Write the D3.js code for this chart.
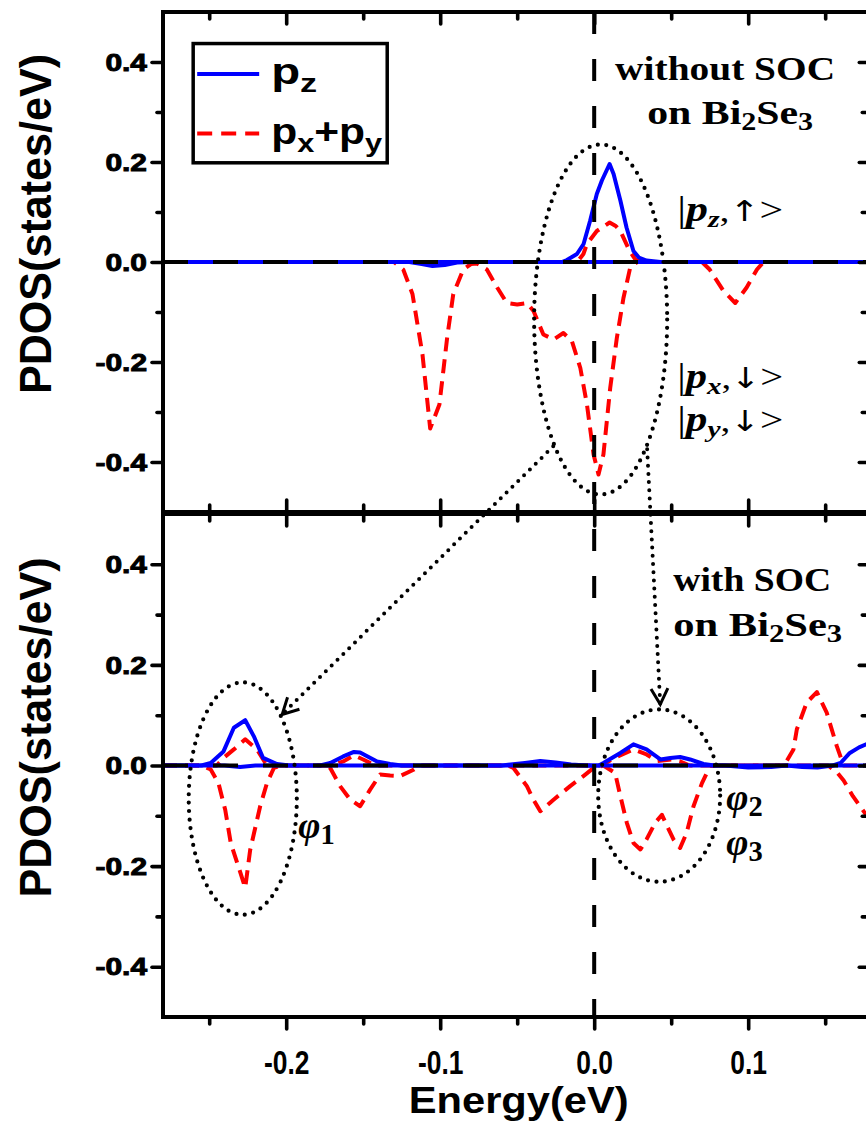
<!DOCTYPE html>
<html>
<head>
<meta charset="utf-8">
<script src="https://cdn.jsdelivr.net/npm/d3@7"></script>
<style>
  html, body { margin: 0; padding: 0; background: #fff; }
  svg { display: block; }
</style>
</head>
<body>
<svg id="chart" width="866" height="1133"></svg>
<script>
// ---------- axes ----------
const energyDomain = [-0.28, 0.178];
const pdosDomain = [-0.5, 0.5];
const xMajorTicks = [-0.2, -0.1, 0.0, 0.1];
const xMinorTicks = [-0.25, -0.15, -0.05, 0.05, 0.15];
const yMajorTicks = [-0.4, -0.2, 0.0, 0.2, 0.4];
const yMinorTicks = [-0.3, -0.1, 0.1, 0.3];
const xTitle = "Energy(eV)";
const yTitle = "PDOS(states/eV)";

// ---------- PDOS curves: [energy (eV), PDOS (states/eV)] ----------
// without SOC
const topPzUp = [[-0.28,0],[-0.021,0],[-0.0177,0.004],[-0.0112,0.016],[-0.0069,0.036],[-0.0026,0.083],
  [0.0017,0.136],[0.005,0.163],[0.010,0.196],[0.0126,0.176],[0.017,0.123],[0.021,0.069],[0.0255,0.022],
  [0.029,0.009],[0.034,0.003],[0.043,0],[0.178,0]];
const topPzDown = [[-0.28,0],[-0.12,0],[-0.112,-0.004],[-0.105,-0.008],[-0.097,-0.006],[-0.089,-0.001],
  [-0.08,0],[0.178,0]];
const topPxyUp = [[-0.28,0],[-0.011,0],[-0.007,0.016],[-0.0047,0.036],[0.0017,0.062],[0.010,0.079],
  [0.014,0.072],[0.017,0.062],[0.023,0.022],[0.027,0.004],[0.032,0],[0.178,0]];
const topPxyDown = [[-0.28,0],[-0.13,0],[-0.124,-0.015],[-0.118,-0.064],[-0.1115,-0.185],[-0.1065,-0.333],
  [-0.1005,-0.285],[-0.0955,-0.152],[-0.0915,-0.064],[-0.085,-0.015],[-0.080,-0.004],[-0.076,-0.003],
  [-0.0697,-0.015],[-0.063,-0.051],[-0.0567,-0.082],[-0.050,-0.085],[-0.0437,-0.082],[-0.0394,-0.098],
  [-0.033,-0.145],[-0.0264,-0.155],[-0.020,-0.142],[-0.0145,-0.158],[-0.009,-0.212],[-0.0047,-0.285],
  [-0.0004,-0.385],[0.0028,-0.425],[0.006,-0.385],[0.0104,-0.252],[0.0147,-0.152],[0.019,-0.072],
  [0.0234,-0.011],[0.028,0],[0.07,0],[0.075,-0.015],[0.084,-0.058],[0.0916,-0.082],[0.099,-0.051],
  [0.1057,-0.015],[0.11,0],[0.178,0]];

// with SOC
const botPzUp = [[-0.28,0],[-0.255,0],[-0.249,0.005],[-0.2407,0.028],[-0.234,0.075],[-0.2266,0.09],
  [-0.221,0.058],[-0.215,0.015],[-0.206,0.003],[-0.198,0],[-0.178,0],[-0.1714,0.005],[-0.163,0.018],
  [-0.156,0.027],[-0.152,0.026],[-0.141,0.008],[-0.1325,0.003],[-0.125,0],[-0.06,0],[-0.045,0.005],
  [-0.035,0.009],[-0.025,0.006],[-0.015,0.002],[-0.005,0],[0.003,0],[0.006,0.005],[0.017,0.025],
  [0.0255,0.042],[0.034,0.032],[0.043,0.012],[0.0494,0.015],[0.0558,0.017],[0.0623,0.012],[0.071,0.003],
  [0.078,0],[0.155,0],[0.16,0.005],[0.166,0.025],[0.172,0.036],[0.178,0.044]];
const botPzDown = [[-0.28,0],[-0.24,0],[-0.23,-0.003],[-0.22,0],[0.085,0],[0.1,-0.004],[0.115,-0.003],
  [0.125,0],[0.135,-0.003],[0.145,-0.004],[0.155,0],[0.178,0]];
const botPxyUp = [[-0.28,0],[-0.245,0],[-0.2407,0.015],[-0.234,0.032],[-0.2266,0.052],[-0.219,0.032],
  [-0.2135,0.005],[-0.21,0],[-0.17,0],[-0.163,0.008],[-0.156,0.02],[-0.15,0.012],[-0.142,0],
  [0.005,0],[0.013,0.015],[0.0255,0.032],[0.034,0.022],[0.041,0.009],[0.05,0.012],[0.056,0.008],
  [0.062,0],[0.12,0],[0.125,0.009],[0.1294,0.032],[0.1316,0.072],[0.138,0.125],[0.1446,0.146],
  [0.151,0.105],[0.1576,0.038],[0.162,0],[0.178,0]];
const botPxyDown = [[-0.28,0],[-0.255,0],[-0.249,-0.008],[-0.244,-0.035],[-0.2396,-0.088],[-0.236,-0.154],
  [-0.2266,-0.243],[-0.2234,-0.168],[-0.2169,-0.081],[-0.2125,-0.035],[-0.208,-0.005],[-0.204,0],
  [-0.175,0],[-0.1714,-0.005],[-0.165,-0.041],[-0.1584,-0.068],[-0.152,-0.081],[-0.1455,-0.048],
  [-0.139,-0.018],[-0.1325,-0.02],[-0.126,-0.021],[-0.117,-0.008],[-0.113,0],[-0.056,0],[-0.0524,-0.005],
  [-0.0437,-0.041],[-0.0394,-0.068],[-0.035,-0.091],[-0.0264,-0.068],[-0.0156,-0.041],[-0.007,-0.021],
  [-0.0004,-0.005],[0.006,0],[0.0136,-0.015],[0.017,-0.061],[0.0212,-0.114],[0.0255,-0.154],[0.03,-0.167],
  [0.034,-0.147],[0.0396,-0.114],[0.044,-0.098],[0.047,-0.118],[0.0515,-0.147],[0.0558,-0.164],
  [0.06,-0.134],[0.0645,-0.081],[0.07,-0.035],[0.0753,-0.001],[0.08,0],[0.152,0],[0.158,-0.015],
  [0.162,-0.03],[0.168,-0.061],[0.178,-0.104]];

// ---------- annotations (data coordinates) ----------
const topEllipse = { cx: 0.0042, cy: -0.115, rx: 0.0432, ry: 0.35 };
const phi1Ellipse = { cx: -0.2282, cy: -0.0657, rx: 0.0351, ry: 0.231 };
const phi23Ellipse = { cx: 0.0422, cy: -0.0598, rx: 0.0396, ry: 0.1713 };
const arrows = [
  { from: { panel: 0, e: -0.0266, v: -0.3687 }, to: { panel: 1, e: -0.2026, v: 0.1016 } },
  { from: { panel: 0, e: 0.0344, v: -0.3747 }, to: { panel: 1, e: 0.0429, v: 0.1215 } }
];

// ---------- layout ----------
const plotLeft = 163, plotRight = 868.3;
const panelBounds = [[12, 512], [514, 1017]];
const blue = "#0000ff", red = "#ff0000";

const svg = d3.select("#chart");
svg.append("rect").attr("width", 866).attr("height", 1133).attr("fill", "#fff");

const x = d3.scaleLinear().domain(energyDomain).range([plotLeft, plotRight]);
const yScales = panelBounds.map(([t, b]) => d3.scaleLinear().domain(pdosDomain).range([b, t]));

const defs = svg.append("defs");
panelBounds.forEach(([t, b], i) => {
  defs.append("clipPath").attr("id", "clip" + i)
    .append("rect").attr("x", plotLeft).attr("y", t).attr("width", plotRight - plotLeft).attr("height", b - t);
});

const panelSeries = [
  { pzUp: topPzUp, pzDown: topPzDown, pxyUp: topPxyUp, pxyDown: topPxyDown },
  { pzUp: botPzUp, pzDown: botPzDown, pxyUp: botPxyUp, pxyDown: botPxyDown }
];

// ---------- curves ----------
panelSeries.forEach((s, i) => {
  const y = yScales[i];
  const line = d3.line().x(d => x(d[0])).y(d => y(d[1]));
  const g = svg.append("g").attr("clip-path", `url(#clip${i})`);
  [s.pxyDown, s.pxyUp].forEach(data => {
    g.append("path").datum(data).attr("d", line)
      .attr("fill", "none").attr("stroke", red).attr("stroke-width", 4)
      .attr("stroke-dasharray", "14,8").attr("stroke-linejoin", "round");
  });
  [s.pzDown, s.pzUp].forEach(data => {
    g.append("path").datum(data).attr("d", line)
      .attr("fill", "none").attr("stroke", blue).attr("stroke-width", 4)
      .attr("stroke-linejoin", "round");
  });
  // zero reference line
  g.append("line")
    .attr("x1", x(energyDomain[0])).attr("x2", x(energyDomain[1]))
    .attr("y1", y(0)).attr("y2", y(0))
    .attr("stroke", "#000").attr("stroke-width", 4).attr("stroke-dasharray", "25,25");
});

// Fermi level
svg.append("line")
  .attr("x1", x(0)).attr("x2", x(0))
  .attr("y1", yScales[0](pdosDomain[1])).attr("y2", yScales[1](pdosDomain[0]))
  .attr("stroke", "#000").attr("stroke-width", 4).attr("stroke-dasharray", "22,25");

// ---------- dotted ellipses ----------
function dottedEllipse(panel, el) {
  const y = yScales[panel];
  svg.append("ellipse")
    .attr("cx", x(el.cx)).attr("cy", y(el.cy))
    .attr("rx", x(el.cx + el.rx) - x(el.cx)).attr("ry", y(el.cy) - y(el.cy + el.ry))
    .attr("fill", "none").attr("stroke", "#000").attr("stroke-width", 4.2)
    .attr("stroke-linecap", "round").attr("stroke-dasharray", "0,8.5");
}
dottedEllipse(0, topEllipse);
dottedEllipse(1, phi1Ellipse);
dottedEllipse(1, phi23Ellipse);

// ---------- dotted arrows ----------
arrows.forEach(a => {
  const x1 = x(a.from.e), y1 = yScales[a.from.panel](a.from.v);
  const x2 = x(a.to.e), y2 = yScales[a.to.panel](a.to.v);
  svg.append("line").attr("x1", x1).attr("y1", y1).attr("x2", x2).attr("y2", y2)
    .attr("stroke", "#000").attr("stroke-width", 4).attr("stroke-linecap", "round")
    .attr("stroke-dasharray", "0,8.2");
  const ang = Math.atan2(y1 - y2, x1 - x2);
  const len = 18, spread = 28 * Math.PI / 180;
  const p = d3.path();
  p.moveTo(x2 + len * Math.cos(ang + spread), y2 + len * Math.sin(ang + spread));
  p.lineTo(x2, y2);
  p.lineTo(x2 + len * Math.cos(ang - spread), y2 + len * Math.sin(ang - spread));
  svg.append("path").attr("d", p.toString()).attr("fill", "none")
    .attr("stroke", "#000").attr("stroke-width", 3).attr("stroke-linejoin", "miter");
});

// ---------- axes ----------
const sans = "'Liberation Sans', Arial, sans-serif";
function styleAxis(g) {
  g.select(".domain").remove();
  g.selectAll("line").attr("stroke", "#000").attr("stroke-width", 3.6).attr("stroke-linecap", "round");
}
panelBounds.forEach(([t, b], i) => {
  const y = yScales[i];
  // left
  const gl = svg.append("g").attr("transform", `translate(${plotLeft},0)`);
  gl.call(d3.axisLeft(y).tickValues(yMinorTicks).tickSize(6).tickFormat("")).call(styleAxis);
  const glm = svg.append("g").attr("transform", `translate(${plotLeft},0)`);
  glm.call(d3.axisLeft(y).tickValues(yMajorTicks).tickSize(11).tickFormat(d3.format(".1f"))).call(styleAxis);
  glm.selectAll("text")
    .attr("x", 0).attr("dy", "0.36em")
    .attr("transform", "translate(-16,0) scale(1.3,1)")
    .style("font-family", sans)
    .style("font-weight", "bold").style("font-size", "23px")
    .attr("fill", "#000").attr("stroke", "#000").attr("stroke-width", 0.9)
    .text(d => d3.format(".1f")(d).replace("−", "-"));
  // right (ticks inward)
  const gr = svg.append("g").attr("transform", `translate(${plotRight},0)`);
  gr.call(d3.axisLeft(y).tickValues(yMinorTicks).tickSize(6).tickFormat("")).call(styleAxis);
  gr.append("g").call(d3.axisLeft(y).tickValues(yMajorTicks).tickSize(9).tickFormat("")).call(styleAxis);
  // top of panel (ticks inward)
  const gt = svg.append("g").attr("transform", `translate(0,${t})`);
  gt.call(d3.axisBottom(x).tickValues(xMinorTicks).tickSize(7).tickFormat("")).call(styleAxis);
  gt.append("g").call(d3.axisBottom(x).tickValues(xMajorTicks).tickSize(12).tickFormat("")).call(styleAxis);
  // bottom of panel
  const gb = svg.append("g").attr("transform", `translate(0,${b})`);
  if (i === 0) {
    gb.call(d3.axisTop(x).tickValues(xMinorTicks).tickSize(7).tickFormat("")).call(styleAxis);
    gb.append("g").call(d3.axisTop(x).tickValues(xMajorTicks).tickSize(12).tickFormat("")).call(styleAxis);
  } else {
    gb.call(d3.axisBottom(x).tickValues(xMinorTicks).tickSize(7).tickFormat("")).call(styleAxis);
    const gbm = gb.append("g");
    gbm.call(d3.axisBottom(x).tickValues(xMajorTicks).tickSize(12).tickFormat(d3.format(".1f"))).call(styleAxis);
    gbm.selectAll("text")
      .attr("y", 0).attr("dy", 0)
      .attr("transform", "translate(0,57) scale(0.8,1)")
      .style("font-family", sans)
      .style("font-weight", "bold").style("font-size", "33px").attr("fill", "#000")
      .text(d => d3.format(".1f")(d).replace("−", "-"));
  }
  // frame
  svg.append("rect").attr("x", plotLeft).attr("y", t).attr("width", plotRight - plotLeft).attr("height", b - t)
    .attr("fill", "none").attr("stroke", "#000").attr("stroke-width", 4);
  // y title
  svg.append("text")
    .attr("transform", `translate(51,${(t + b) / 2 - 38}) rotate(-90)`)
    .attr("text-anchor", "middle")
    .attr("textLength", 340).attr("lengthAdjust", "spacingAndGlyphs")
    .style("font-family", "'Liberation Sans Narrow', 'Liberation Sans', Arial, sans-serif")
    .style("font-weight", "bold").style("font-size", "45px")
    .text(yTitle);
});

// x title
svg.append("text")
  .attr("x", x(-0.049)).attr("y", 1113)
  .attr("text-anchor", "middle")
  .attr("textLength", 220).attr("lengthAdjust", "spacingAndGlyphs")
  .style("font-family", sans)
  .style("font-weight", "bold").style("font-size", "36px")
  .text(xTitle);

// ---------- legend ----------
const legendBox = { e0: -0.2604, e1: -0.1344, v0: 0.4369, v1: 0.1984 };
const yTop = yScales[0];
svg.append("rect")
  .attr("x", x(legendBox.e0)).attr("y", yTop(legendBox.v0))
  .attr("width", x(legendBox.e1) - x(legendBox.e0)).attr("height", yTop(legendBox.v1) - yTop(legendBox.v0))
  .attr("fill", "#fff").attr("stroke", "#000").attr("stroke-width", 3.5);
const legendItems = [
  { color: blue, dash: null, v: 0.376, len: 46, parts: [["p", 0], ["z", 1]] },
  { color: red, dash: "15,9", v: 0.257, len: 111, parts: [["p", 0], ["x", 1], ["+", 0], ["p", 0], ["y", 1]] }
];
legendItems.forEach(it => {
  const ly = yTop(it.v);
  svg.append("line").attr("x1", x(legendBox.e0) + 4).attr("x2", x(legendBox.e0) + 66)
    .attr("y1", ly).attr("y2", ly).attr("stroke", it.color).attr("stroke-width", 4)
    .attr("stroke-dasharray", it.dash);
  const t = svg.append("text").attr("x", x(legendBox.e0) + 78).attr("y", ly + 10)
    .attr("textLength", it.len).attr("lengthAdjust", "spacingAndGlyphs")
    .style("font-family", sans).style("font-weight", "bold");
  let sub = false;
  it.parts.forEach(([s, isSub]) => {
    const ts = t.append("tspan").text(s).style("font-size", isSub ? "26px" : "36px");
    if (isSub && !sub) ts.attr("dy", 8);
    if (!isSub && sub) ts.attr("dy", -8);
    sub = !!isSub;
  });
});

// ---------- labels ----------
const serif = "'Liberation Serif', 'DejaVu Serif', serif";
function richText(panel, e, v, parts, size, len) {
  const t = svg.append("text").attr("x", x(e)).attr("y", yScales[panel](v))
    .style("font-family", serif).style("font-size", size + "px").attr("fill", "#000");
  if (len) t.attr("textLength", len).attr("lengthAdjust", "spacingAndGlyphs");
  let shift = 0;
  parts.forEach(p => {
    const ts = t.append("tspan").text(p.t);
    if (p.bold) ts.style("font-weight", "bold");
    if (p.italic) ts.style("font-style", "italic");
    if (p.font) ts.style("font-family", p.font);
    if (p.scale) ts.style("font-size", (size * p.scale) + "px");
    const want = p.dy || 0;
    if (want !== shift) { ts.attr("dy", want - shift); shift = want; }
  });
  return t;
}
// condition labels
richText(0, 0.0136, 0.365, [{ t: "without SOC", bold: true }], 34, 220);
richText(0, 0.0344, 0.2766, [
  { t: "on Bi", bold: true }, { t: "2", bold: true, scale: 0.72, dy: 6 },
  { t: "Se", bold: true }, { t: "3", bold: true, scale: 0.72, dy: 6 }], 34, 166);
richText(1, 0.0513, 0.3466, [{ t: "with SOC", bold: true }], 34, 158);
richText(1, 0.0513, 0.257, [
  { t: "on Bi", bold: true }, { t: "2", bold: true, scale: 0.72, dy: 6 },
  { t: "Se", bold: true }, { t: "3", bold: true, scale: 0.72, dy: 6 }], 34, 169);

// orbital / spin states
function ket(panel, e, v, sub, arrow) {
  richText(panel, e, v, [
    { t: "|", scale: 1.1 }, { t: "p", italic: true, bold: true, scale: 1.1 },
    { t: sub, italic: true, bold: true, scale: 0.75, dy: 6 },
    { t: ",", dy: 0 }, { t: arrow, font: "'DejaVu Sans', sans-serif", scale: 0.9 }, { t: ">", scale: 1.05 }], 32, 106);
}
ket(0, 0.0539, 0.082, "z", "↑");
ket(0, 0.0539, -0.2525, "x", "↓");
ket(0, 0.0539, -0.3387, "y", "↓");

// wavefunction labels
function phi(panel, e, v, n) {
  richText(panel, e, v, [{ t: "φ", italic: true, bold: true }, { t: n, bold: true, scale: 0.75, dy: 6 }], 38);
}
phi(1, -0.1922, -0.1434, "1");
phi(1, 0.0857, -0.0876, "2");
phi(1, 0.0857, -0.177, "3");
</script>
</body>
</html>
